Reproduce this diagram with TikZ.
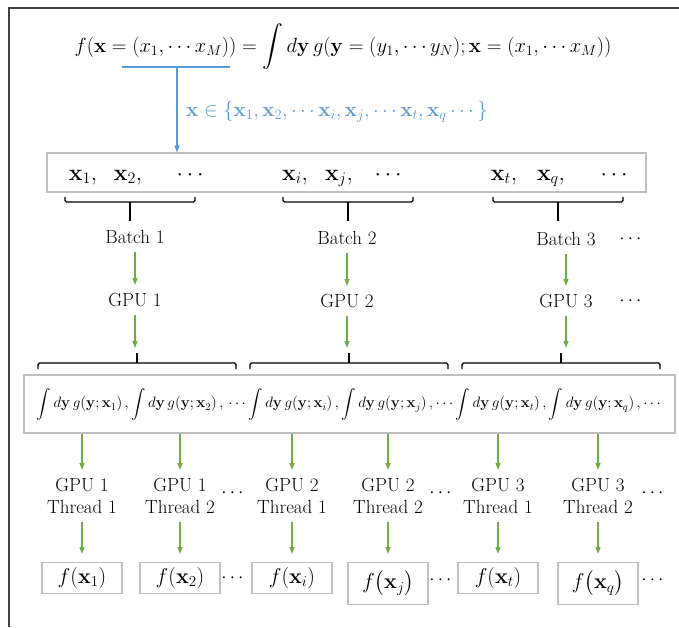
\RequirePackage{fix-cm}
\documentclass[tikz,border=0pt]{standalone}
\usepackage{amsmath}
\usetikzlibrary{positioning, arrows.meta}
\definecolor{gpBlue}{HTML}{5B9BD5}
\definecolor{gpGreen}{HTML}{70AD47}
\definecolor{gpGray}{HTML}{BFBFBF}

\begin{document}
\begin{tikzpicture}[
  x=1pt, y=-1pt,
  every node/.style={font=\fontsize{19}{22}\selectfont, align=center, inner sep=0pt},
  mathbig/.style={font=\fontsize{20.5}{24}\selectfont},
  rowitem/.style={anchor=base, font=\fontsize{23}{26}\selectfont},
  rowbox/.style={
    rectangle, draw=gpGray, line width=1.2pt
  },
  resbox/.style={
    rectangle, draw=gpGray, line width=1.2pt, anchor=north,
    minimum width=80pt, minimum height=31pt,
    font=\fontsize{21.5}{24}\selectfont
  },
  garrow/.style={-{Triangle[length=7pt, width=5pt]}, gpGreen, line width=1.1pt,
    shorten <=8pt, shorten >=8pt},
  barrow/.style={-{Triangle[length=7pt, width=5pt]}, gpBlue, line width=1.2pt},
  brace/.style={line width=1.1pt, rounded corners=1.5pt}
]
 \useasboundingbox (0,0) rectangle (679,627);
 \draw[black!75, line width=1.5pt] (9,627) -- (9,8) -- (679,8);

 % Formula and the set of points
 \node[mathbig] (fx) at (343,47)
   {$f(\mathbf{x}=(x_1,\cdots x_M)) = \displaystyle\int d\mathbf{y}\,
     g(\mathbf{y}=(y_1,\cdots y_N);\mathbf{x}=(x_1,\cdots x_M))$};
 \coordinate (ulL) at (122,67);
 \coordinate (ulR) at (230,67);
 \coordinate (ulM) at (177,67);
 \draw[gpBlue, line width=1.2pt] (ulL) -- (ulR);
 \node[mathbig, text=gpBlue, anchor=west] (xset) at (186,112)
   {$\mathbf{x}\in\{\mathbf{x}_1,\mathbf{x}_2,\cdots\mathbf{x}_i,\mathbf{x}_j,
     \cdots\mathbf{x}_t,\mathbf{x}_q\cdots\}$};

 % Row of points, split in batches
 \node[rowbox, minimum width=599pt, minimum height=39pt] (xrow) at (346.5,172.5) {};
 \draw[barrow] (ulM) -- (ulM |- xrow.north);
 \node[rowitem] (x1) at (83,180) {$\mathbf{x}_1,$};
 \node[rowitem] (x2) at (128,180) {$\mathbf{x}_2,$};
 \node[rowitem] (xd1) at (192,180) {$\cdots$};
 \node[rowitem] (xi) at (295,180) {$\mathbf{x}_i,$};
 \node[rowitem] (xj) at (339,180) {$\mathbf{x}_j,$};
 \node[rowitem] (xd2) at (390,180) {$\cdots$};
 \node[rowitem] (xt) at (504,180) {$\mathbf{x}_t,$};
 \node[rowitem] (xq) at (551,180) {$\mathbf{x}_q,$};
 \node[rowitem] (xd3) at (616,180) {$\cdots$};

 \draw[brace] (65,197) -- (65,202) -- (195,202) -- (195,197);
 \draw[brace] (130,202) -- (130,221);
 \draw[brace] (283,197) -- (283,202) -- (413,202) -- (413,197);
 \draw[brace] (348,202) -- (348,221);
 \draw[brace] (493,197) -- (493,202) -- (623,202) -- (623,197);
 \draw[brace] (558,202) -- (558,221);

 % Batches and GPUs
 \node (b1) at (135,237) {Batch 1};
 \node (b2) at (347,238) {Batch 2};
 \node (b3) at (566,239) {Batch 3};
 \node (bd) at (632,239) {$\cdots$};
 \node (g1) at (135,300) {GPU 1};
 \node (g2) at (347,301) {GPU 2};
 \node (g3) at (566,301) {GPU 3};
 \node (gd) at (632,301) {$\cdots$};

 \draw[garrow] (b1) -- (b1 |- g1.north); \draw[garrow] (b2) -- (b2 |- g2.north);
 \draw[garrow] (b3) -- (b3 |- g3.north);

 \coordinate (lb1) at (137,353);
 \coordinate (lb2) at (349,353);
 \coordinate (lb3) at (561,353);
 \draw[garrow, shorten >=5pt] (g1) -- (g1 |- lb1);
 \draw[garrow, shorten >=5pt] (g2) -- (g2 |- lb2);
 \draw[garrow, shorten >=5pt] (g3) -- (g3 |- lb3);

 \draw[brace] (38,369) -- (38,363) -- (236,363) -- (236,369);
 \draw[brace] (137,363) -- (lb1);
 \draw[brace] (250,369) -- (250,363) -- (448,363) -- (448,369);
 \draw[brace] (349,363) -- (lb2);
 \draw[brace] (462,369) -- (462,363) -- (660,363) -- (660,369);
 \draw[brace] (561,363) -- (lb3);

 % Integrals for every point
 \node[rowbox, minimum width=651pt, minimum height=58pt] (ibox) at (349.5,404) {};
 \node[font=\fontsize{15}{18}\selectfont] (irow) at (350,404)
   {$\displaystyle\int d\mathbf{y}\, g(\mathbf{y};\mathbf{x}_1)\,,
     \int d\mathbf{y}\, g(\mathbf{y};\mathbf{x}_2)\,,\,\cdots
     \int d\mathbf{y}\, g(\mathbf{y};\mathbf{x}_i)\,,
     \int d\mathbf{y}\, g(\mathbf{y};\mathbf{x}_j)\,,\cdots
     \int d\mathbf{y}\, g(\mathbf{y};\mathbf{x}_t)\,,
     \int d\mathbf{y}\, g(\mathbf{y};\mathbf{x}_q)\,,\cdots$};

 % Threads
 \node (t1) at (82,496) {GPU 1\\Thread 1};
 \node (t2) at (180,496) {GPU 1\\Thread 2};
 \node (t3) at (292,496) {GPU 2\\Thread 1};
 \node (t4) at (388,496) {GPU 2\\Thread 2};
 \node (t5) at (498,496) {GPU 3\\Thread 1};
 \node (t6) at (598,496) {GPU 3\\Thread 2};
 \node (td1) at (234,493) {$\cdots$};
 \node (td2) at (442,493) {$\cdots$};
 \node (td3) at (654,493) {$\cdots$};

 \draw[garrow, shorten <=0pt] (ibox.south -| t1) -- (t1);
 \draw[garrow, shorten <=0pt] (ibox.south -| t2) -- (t2);
 \draw[garrow, shorten <=0pt] (ibox.south -| t3) -- (t3);
 \draw[garrow, shorten <=0pt] (ibox.south -| t4) -- (t4);
 \draw[garrow, shorten <=0pt] (ibox.south -| t5) -- (t5);
 \draw[garrow, shorten <=0pt] (ibox.south -| t6) -- (t6);

 % Results
 \node[resbox] (f1) at (82,562) {$f(\mathbf{x}_1)$};
 \node[resbox] (f2) at (180,562) {$f(\mathbf{x}_2)$};
 \node[resbox] (f3) at (292,562) {$f(\mathbf{x}_i)$};
 \node[resbox, minimum height=42pt] (f4) at (388,562) {$f\bigl(\mathbf{x}_j\bigr)$};
 \node[resbox] (f5) at (498,562) {$f(\mathbf{x}_t)$};
 \node[resbox, minimum height=42pt] (f6) at (598,562) {$f\bigl(\mathbf{x}_q\bigr)$};
 \node (fd1) at (234,578) {$\cdots$};
 \node (fd2) at (442,580) {$\cdots$};
 \node (fd3) at (654,580) {$\cdots$};

 \draw[garrow] (t1) -- (f1); \draw[garrow] (t2) -- (f2);
 \draw[garrow] (t3) -- (f3); \draw[garrow] (t4) -- (f4);
 \draw[garrow] (t5) -- (f5); \draw[garrow] (t6) -- (f6);
\end{tikzpicture}
\end{document}
